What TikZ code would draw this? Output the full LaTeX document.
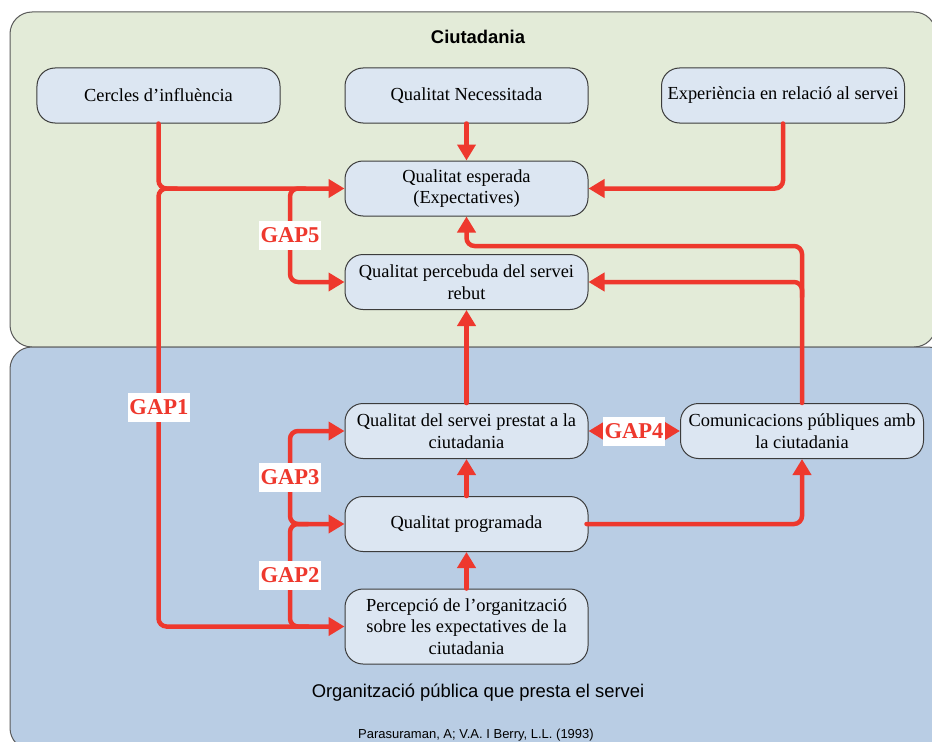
\documentclass[tikz,border=0pt]{standalone}
\usepackage{fontspec}
\setmainfont{Liberation Serif}
\setsansfont{Liberation Sans}
\usetikzlibrary{arrows.meta}
\definecolor{gapred}{RGB}{238,56,45}
\definecolor{citizenbg}{RGB}{227,235,216}
\definecolor{orgbg}{RGB}{185,205,228}
\definecolor{boxfill}{RGB}{220,230,242}
\definecolor{boxline}{RGB}{60,60,60}
\definecolor{panelline}{RGB}{90,90,90}

\begin{document}
\begin{tikzpicture}[x=1bp,y=-1bp,
  stage/.style={draw=boxline, line width=1bp, fill=boxfill, rounded corners=18bp,
    minimum width=243bp, minimum height=55bp, inner sep=0pt, align=center,
    font=\fontsize{18.4bp}{21.5bp}\selectfont},
  flow/.style={draw=gapred, line width=4.5bp, rounded corners=8bp, line cap=round,
    -{Triangle[length=16bp,width=18bp]}},
  twoway/.style={flow, {Triangle[length=16bp,width=18bp]}-{Triangle[length=16bp,width=18bp]}},
  gaplabel/.style={fill=white, text=gapred, inner sep=0pt, minimum width=62bp,
    minimum height=29bp, font=\fontsize{22.6bp}{24bp}\selectfont\bfseries},
  panel/.style={draw=panelline, line width=1bp, rounded corners=22bp}]

\clip (0,0) rectangle (932,742);

% the two areas: citizens (top) and public organisation (bottom)
\path[panel, fill=citizenbg] (10,12) rectangle (936,347);
\path[panel, fill=orgbg] (10,347) rectangle (950,750);

\node[font=\sffamily\bfseries\fontsize{18.4bp}{21bp}\selectfont] (title) at (478,37) {Ciutadania};
\node[font=\sffamily\fontsize{18.4bp}{21bp}\selectfont] (orgtitle) at (478,693) {Organització pública que presta el servei};
\node[font=\sffamily\fontsize{13bp}{15bp}\selectfont] (source) at (476,735) {Parasuraman, A; V.A. I Berry, L.L. (1993)};

% boxes
\node[stage] (cercles) at (158.5,95.5) {Cercles d’influència};
\node[stage] (necess) at (466.5,95.5) {Qualitat Necessitada};
\node[stage] (exper) at (783,95.5) {Experiència en relació al servei};
\node[stage] (esperada) at (466.5,188.5) {Qualitat esperada\\(Expectatives)};
\node[stage] (percebuda) at (466.5,282) {Qualitat percebuda del servei\\rebut};
\node[stage] (prestat) at (466.5,431) {Qualitat del servei prestat a la\\ciutadania};
\node[stage] (programada) at (466.5,524) {Qualitat programada};
\node[stage, minimum height=75bp] (percepcio) at (466.5,626.5) {Percepció de l’organització\\sobre les expectatives de la\\ciutadania};
\node[stage] (comunic) at (802,431) {Comunicacions públiques amb\\la ciutadania};

% junction points of the gap lines
\coordinate (j1) at (cercles.south |- esperada.west);
\coordinate (g5) at (290,188.5);
\coordinate (g3) at (290,524);
\coordinate (g2) at (290,626.5);
\coordinate (c5) at (comunic.north |- percebuda.east);
\coordinate (c1) at (802,246);
\coordinate (c2) at (466.5,246);

% connectors
\draw[flow] (cercles.south) |- (esperada.west);
\draw[flow] ([xshift=18bp]j1) -- (j1) |- (percepcio.west);
\draw[flow] ([xshift=15bp]g5) -- (g5) |- (percebuda.west);
\draw[flow] (necess.south) -- (esperada.north);
\draw[flow] (exper.south) |- (esperada.east);
\draw[flow] (comunic.north) -- (c1) -- (c2) -- (esperada.south);
\draw[flow] ([yshift=-15bp]c5) -- (c5) -- (percebuda.east);
\draw[flow] (prestat.north) -- (percebuda.south);
\draw[flow] (programada.north) -- (prestat.south);
\draw[flow] (percepcio.north) -- (programada.south);
\draw[flow] ([xshift=-2bp]programada.east) -| (comunic.south);
\draw[flow] ([xshift=18bp]g3) -- (g3) |- (prestat.west);
\draw[flow] ([xshift=18bp]g2) -- (g2) |- (programada.west);
\draw[twoway] (prestat.east) -- (comunic.west);

% gap labels
\node[gaplabel] (gap1) at (159,407.5) {GAP1};
\node[gaplabel] (gap2) at (290,575.5) {GAP2};
\node[gaplabel] (gap3) at (290,477.5) {GAP3};
\node[gaplabel] (gap4) at (634,431.5) {GAP4};
\node[gaplabel] (gap5) at (290,235.5) {GAP5};
\end{tikzpicture}
\end{document}
